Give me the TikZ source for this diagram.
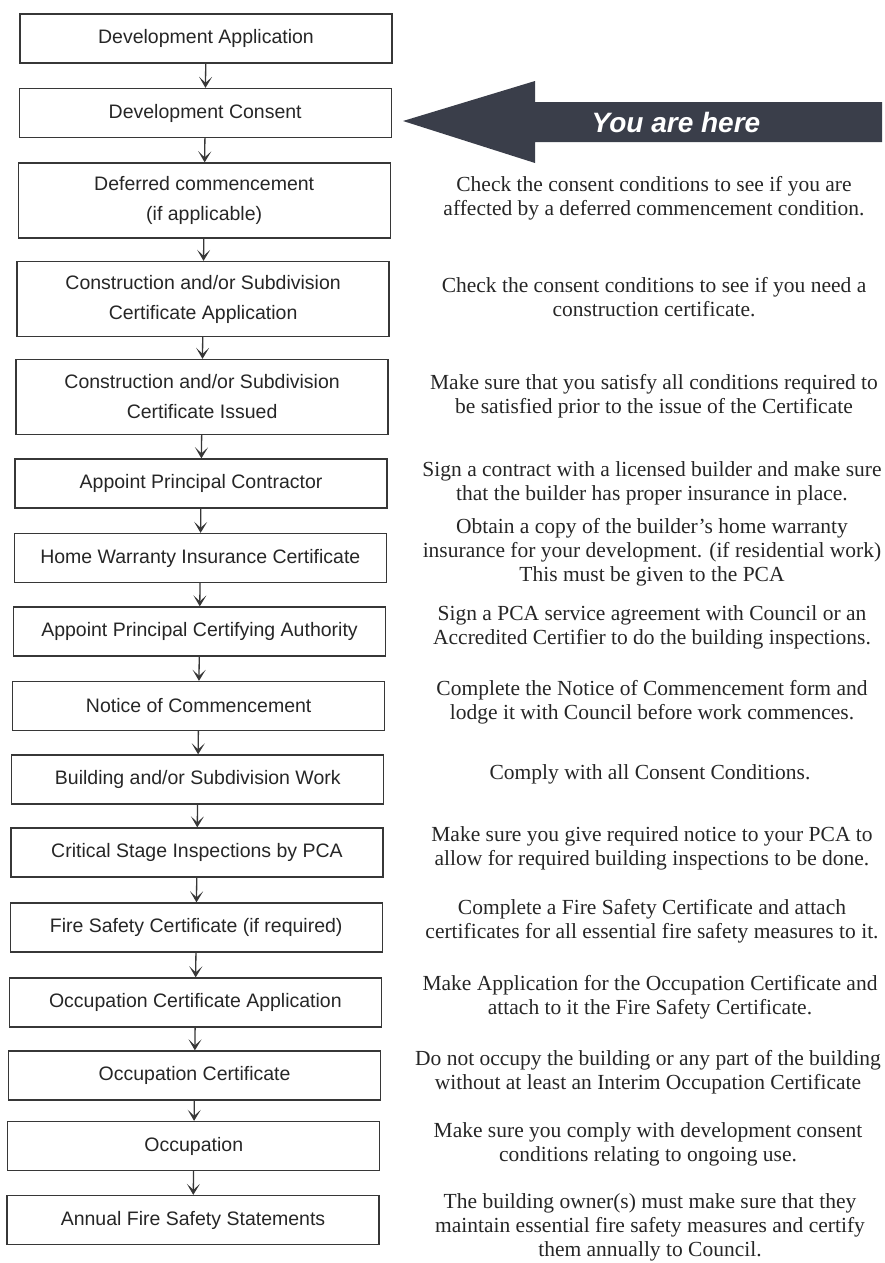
\documentclass[tikz,border=0pt]{standalone}
\usepackage{fontspec}
\setmainfont{Liberation Serif}
\setsansfont{Liberation Sans}
\usepackage{tikz}
\usetikzlibrary{arrows.meta}
\definecolor{inkgray}{RGB}{55,55,55}
\definecolor{herefill}{RGB}{58,62,74}

\begin{document}
\begin{tikzpicture}[x=1pt, y=-1pt,
  stage/.style={draw=inkgray, line width=1.3pt, minimum width=372pt, minimum height=49pt, inner sep=0pt, align=center, text=black!85, font=\sffamily\fontsize{19.5}{30}\selectfont},
  stage2/.style={stage, minimum height=75pt},
  note/.style={align=center, text=black!85, font=\fontsize{21.5}{24}\selectfont},
  flow/.style={draw=inkgray, line width=1.3pt, -{Stealth[length=11pt,width=13pt,inset=6pt]}}]
\useasboundingbox (0,0) rectangle (885,1263);

\node[stage] (devapp) at (206,38.5) {Development Application};
\node[stage] (consent) at (205.2,113) {Development Consent};
\node[stage2] (deferred) at (204.2,200.5) {Deferred commencement\\(if applicable)};
\node[stage2] (ccapp) at (203.1,299) {Construction and/or Subdivision\\Certificate Application};
\node[stage2] (ccissued) at (202.1,397) {Construction and/or Subdivision\\Certificate Issued};
\node[stage] (contractor) at (201.1,483.5) {Appoint Principal Contractor};
\node[stage] (warranty) at (200.3,558) {Home Warranty Insurance Certificate};
\node[stage] (pca) at (199.5,631.5) {Appoint Principal Certifying Authority};
\node[stage] (notice) at (198.7,706) {Notice of Commencement};
\node[stage] (work) at (197.8,779.5) {Building and/or Subdivision Work};
\node[stage] (inspect) at (197,852.5) {Critical Stage Inspections by PCA};
\node[stage] (firecert) at (196.2,927.5) {Fire Safety Certificate (if required)};
\node[stage] (occapp) at (195.4,1002.5) {Occupation Certificate Application};
\node[stage] (occcert) at (194.6,1075.5) {Occupation Certificate};
\node[stage] (occupy) at (193.8,1146) {Occupation};
\node[stage] (annual) at (193,1220) {Annual Fire Safety Statements};

\draw[flow] (devapp) -- (consent);
\draw[flow] (consent) -- (deferred);
\draw[flow] (deferred) -- (ccapp);
\draw[flow] (ccapp) -- (ccissued);
\draw[flow] (ccissued) -- (contractor);
\draw[flow] (contractor) -- (warranty);
\draw[flow] (warranty) -- (pca);
\draw[flow] (pca) -- (notice);
\draw[flow] (notice) -- (work);
\draw[flow] (work) -- (inspect);
\draw[flow] (inspect) -- (firecert);
\draw[flow] (firecert) -- (occapp);
\draw[flow] (occapp) -- (occcert);
\draw[flow] (occcert) -- (occupy);
\draw[flow] (occupy) -- (annual);

% you are here
\coordinate (tip) at (403,121);
\fill[herefill] (tip) -- (535,81) -- (535,102) -- (882,102) -- (882,142) -- (535,142) -- (535,163) -- cycle;
\node[text=white, font=\sffamily\bfseries\itshape\fontsize{28}{30}\selectfont] (here) at (676,122) {You are here};

\node[note] (ndeferred) at (654,198.5) {Check the consent conditions to see if you are\\affected by a deferred commencement condition.};
\node[note] (nccapp) at (654,297) {Check the consent conditions to see if you need a\\construction certificate.};
\node[note] (nccissued) at (654,396) {Make sure that you satisfy all conditions required to\\be satisfied prior to the issue of the Certificate};
\node[note] (ncontractor) at (652,483) {Sign a contract with a licensed builder and make sure\\that the builder has proper insurance in place.};
\node[note] (nwarranty) at (652,552) {Obtain a copy of the builder’s home warranty\\insurance for your development. (if residential work)\\This must be given to the PCA};
\node[note] (npca) at (652,627) {Sign a PCA service agreement with Council or an\\Accredited Certifier to do the building inspections.};
\node[note] (nnotice) at (652,702) {Complete the Notice of Commencement form and\\lodge it with Council before work commences.};
\node[note] (nwork) at (650,774) {Comply with all Consent Conditions.};
\node[note] (ninspect) at (652,848) {Make sure you give required notice to your PCA to\\allow for required building inspections to be done.};
\node[note] (nfirecert) at (652,921) {Complete a Fire Safety Certificate and attach\\certificates for all essential fire safety measures to it.};
\node[note] (noccapp) at (650,997) {Make Application for the Occupation Certificate and\\attach to it the Fire Safety Certificate.};
\node[note] (nocccert) at (648,1072) {Do not occupy the building or any part of the building\\without at least an Interim Occupation Certificate};
\node[note] (noccupy) at (648,1144) {Make sure you comply with development consent\\conditions relating to ongoing use.};
\node[note] (nannual) at (650,1227) {The building owner(s) must make sure that they\\maintain essential fire safety measures and certify\\them annually to Council.};

\end{tikzpicture}
\end{document}
